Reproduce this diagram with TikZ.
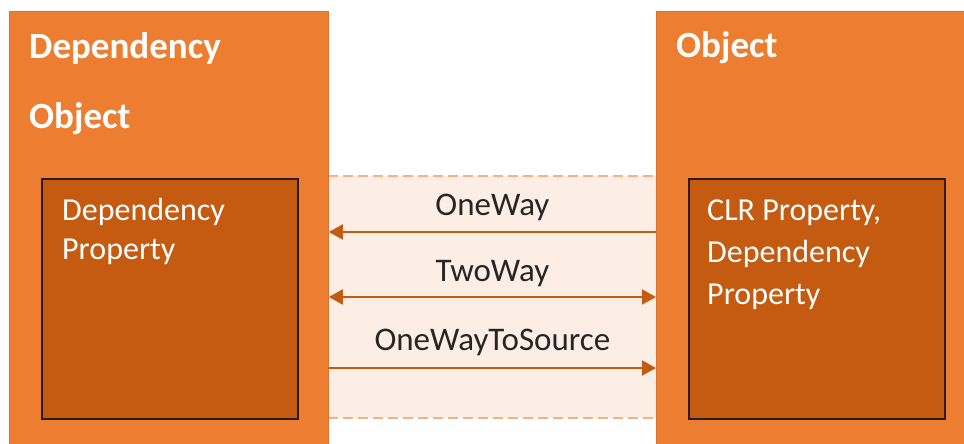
\documentclass[tikz,border=0pt]{standalone}
\usepackage{fontspec}
\setmainfont{Carlito}
\usetikzlibrary{arrows.meta,positioning}
\usepackage{xcolor}
\definecolor{objorange}{HTML}{ED7D31}
\definecolor{objedge}{HTML}{DB7230}
\definecolor{propbrown}{HTML}{C55A11}
\definecolor{propedge}{HTML}{2E1A0C}
\definecolor{bandfill}{HTML}{FCEEE4}
\definecolor{banddash}{HTML}{F4B183}

\begin{document}
\begin{tikzpicture}[
    x=1pt, y=-1pt,
    objbox/.style={draw=objedge, fill=objorange, line width=0.8pt, anchor=north west, inner sep=0pt, minimum width=#1, minimum height=460pt},
    propbox/.style={draw=propedge, fill=propbrown, line width=1.5pt, anchor=north west, inner sep=0pt, minimum width=256pt, minimum height=240pt},
    band/.style={fill=bandfill, anchor=north west, inner sep=0pt, minimum width=328pt, minimum height=242pt},
    bandline/.style={draw=banddash, line width=2pt, dash pattern=on 10pt off 5pt},
    title/.style={text=white, font=\bfseries\fontsize{37}{70}\selectfont, align=left, anchor=base west, inner sep=0pt},
    proptext/.style={text=white, font=\fontsize{32}{#1}\selectfont, align=left, anchor=base west, inner sep=0pt},
    lbl/.style={font=\fontsize{33}{38}\selectfont, text=black!85, anchor=base, inner sep=0pt},
    flow/.style={draw=propbrown, line width=2pt, {Triangle[length=14pt, width=15pt]}-{Triangle[length=14pt, width=15pt]}}
]
\useasboundingbox (0,0) rectangle (964,444);
\clip (0,0) rectangle (964,444);

\node[band] (link) at (328,176) {};
\draw[bandline] (link.north west) -- (link.north east);
\draw[bandline] (link.south west) -- (link.south east);

\node[objbox=319pt] (depobj) at (9,11) {};
\node[objbox=330pt] (clrobj) at (656,11) {};

\node[propbox] (depprop) at (41,178) {};
\node[propbox] (clrprop) at (688,178) {};

% base anchor sits on the last line
\node[title] (deptitle) at (29,128) {Dependency\\Object};
\node[title] (clrtitle) at (676,58) {Object};

\node[proptext=39pt] (deptext) at (62,259) {Dependency\\Property};
\node[proptext=42pt] (clrtext) at (707,304) {CLR Property,\\Dependency\\Property};

\draw[flow, -{Triangle[length=14pt, width=15pt]}] (clrobj.west |- 0,232) -- node[lbl, yshift=17pt] (oneway) {OneWay} (depobj.east |- 0,232);
\draw[flow] (depobj.east |- 0,297) -- node[lbl, yshift=16pt] (twoway) {TwoWay} (clrobj.west |- 0,297);
\draw[flow, -{Triangle[length=14pt, width=15pt]}] (depobj.east |- 0,368) -- node[lbl, yshift=18pt] (tosource) {OneWayToSource} (clrobj.west |- 0,368);
\end{tikzpicture}
\end{document}
